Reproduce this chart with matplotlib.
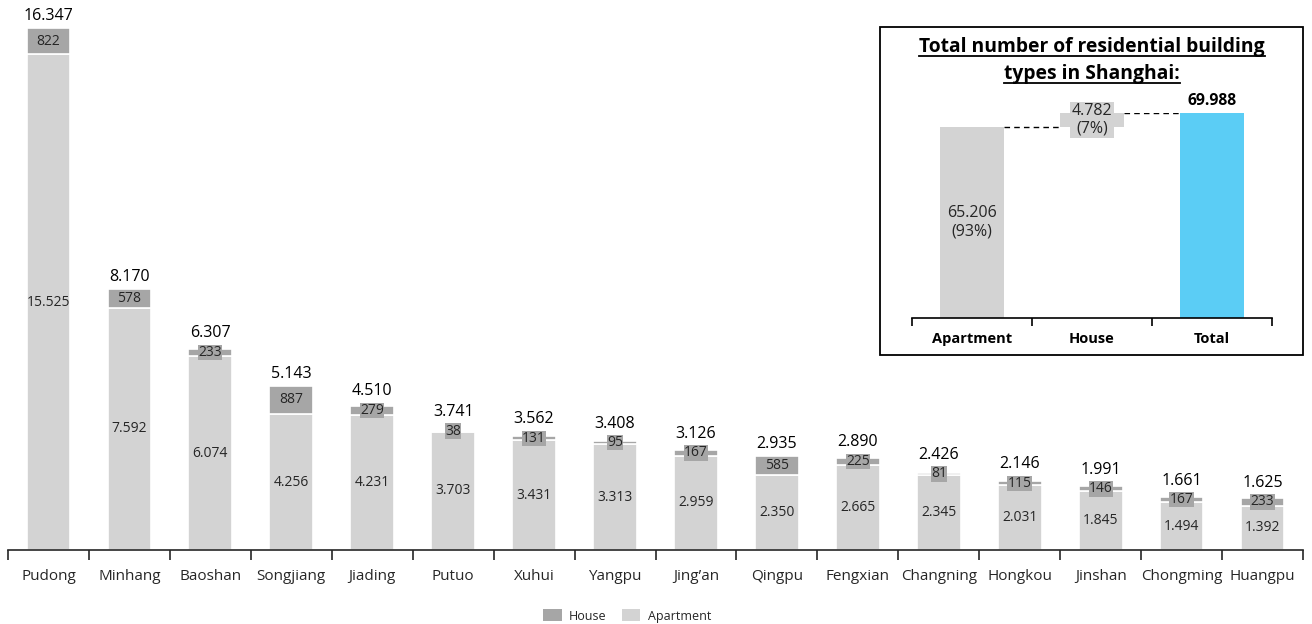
import numpy as np
import matplotlib
matplotlib.use("Agg")
import matplotlib.pyplot as plt
from matplotlib.patches import Rectangle, Patch
from matplotlib.lines import Line2D

plt.rcParams['font.family'] = ['Open Sans', 'DejaVu Sans']

districts = ["Pudong", "Minhang", "Baoshan", "Songjiang", "Jiading", "Putuo", "Xuhui",
             "Yangpu", "Jing\u2019an", "Qingpu", "Fengxian", "Changning", "Hongkou",
             "Jinshan", "Chongming", "Huangpu"]
apartment = [15525, 7592, 6074, 4256, 4231, 3703, 3431, 3313, 2959, 2350, 2665, 2345,
             2031, 1845, 1494, 1392]
house = [822, 578, 233, 887, 279, 38, 131, 95, 167, 585, 225, 81, 115, 146, 167, 233]

summary_labels = ["Apartment", "House", "Total"]
summary_apartment = 65206
summary_house = 4782
summary_total = 69988
summary_pct = ["93%", "7%"]

C_HOUSE = "#a6a6a6"
C_APT = "#d3d3d3"
C_TOTAL = "#5bcdf5"
TXT = "#262626"


def fmt(v):
    return f"{v:,}".replace(",", ".")


W, H = 1312, 624
fig = plt.figure(figsize=(W / 100, H / 100), dpi=100)

# ---- main stacked bar chart ----
ax_h_px = 522
ax = fig.add_axes([8 / W, 74 / H, 1295 / W, ax_h_px / H])
x = np.arange(len(districts))
apt = np.array(apartment)
hs = np.array(house)
tot = apt + hs
ymax = tot.max()
bw = 0.54
ax.bar(x, apt, bw, color=C_APT, edgecolor="white", linewidth=1.2)
ax.bar(x, hs, bw, bottom=apt, color=C_HOUSE, edgecolor="white", linewidth=1.2)

box_half_px = 7
for i in range(len(x)):
    ax.text(x[i], apt[i] / 2, fmt(apt[i]), ha="center", va="center",
            fontsize=10, color=TXT)
    ax.text(x[i], apt[i] + hs[i] / 2, fmt(hs[i]), ha="center", va="center",
            fontsize=10, color=TXT,
            bbox=dict(boxstyle="square,pad=0.02", fc=C_HOUSE, ec="none"))
    # keep the total clear of the house label box when the segment is thin
    seg_px = hs[i] * ax_h_px / ymax
    off_px = max(0.0, box_half_px - seg_px / 2) + 4
    ax.annotate(fmt(tot[i]), (x[i], tot[i]), xytext=(0, off_px * 0.72),
                textcoords="offset points", ha="center", va="bottom",
                fontsize=11.5, color="black", annotation_clip=False)

ax.set_xlim(-0.5, len(x) - 0.5)
ax.set_ylim(0, ymax)
for s in ["top", "right", "left"]:
    ax.spines[s].set_visible(False)
ax.spines["bottom"].set_color(TXT)
ax.spines["bottom"].set_linewidth(1.2)
ax.set_yticks([])
ax.set_xticks(x)
ax.set_xticklabels(districts, fontsize=11, color=TXT)
ax.tick_params(axis="x", which="major", length=0, pad=14)
ax.set_xticks(np.arange(-0.5, len(x), 1.0), minor=True)
ax.tick_params(axis="x", which="minor", length=7, width=1.2, color=TXT, direction="out")

handles = [Patch(facecolor=C_HOUSE, label="House"), Patch(facecolor=C_APT, label="Apartment")]
fig.legend(handles=handles, loc="center", bbox_to_anchor=(627 / W, 8 / H), ncol=2,
           frameon=False, fontsize=9, handlelength=1.5, handleheight=1.1,
           columnspacing=1.2, handletextpad=0.6, labelcolor=TXT)

# ---- summary waterfall panel ----
fig.patches.append(Rectangle((880 / W, (H - 355) / H), 423 / W, 328 / H,
                             transform=fig.transFigure, fill=False, ec="black", lw=1.3))

title_lines = ["Total number of residential building", "types in Shanghai:"]
title_y = [47, 74]
titles = []
for line, yy in zip(title_lines, title_y):
    titles.append(fig.text(1092 / W, (H - yy) / H, line, ha="center", va="center",
                           fontsize=13.9, fontweight="bold", color="black"))

ax2 = fig.add_axes([912 / W, (H - 318) / H, 360 / W, 205 / H])
wbw = 64 / 120
ax2.bar(0, summary_apartment, wbw, color=C_APT)
ax2.bar(1, summary_house, wbw, bottom=summary_apartment, color=C_APT)
ax2.bar(2, summary_total, wbw, color=C_TOTAL)
ax2.plot([wbw / 2, 1 - wbw / 2], [summary_apartment] * 2, "k--", lw=1, dashes=(4, 3))
ax2.plot([1 + wbw / 2, 2 - wbw / 2], [summary_total] * 2, "k--", lw=1, dashes=(4, 3))
ax2.text(0, summary_apartment / 2, f"{fmt(summary_apartment)}\n({summary_pct[0]})",
         ha="center", va="center", fontsize=11.5, color=TXT, linespacing=1.2)
ax2.text(1, summary_apartment + summary_house / 2,
         f"{fmt(summary_house)}\n({summary_pct[1]})",
         ha="center", va="center", fontsize=11.5, color=TXT, linespacing=1.1,
         bbox=dict(boxstyle="square,pad=0.08", fc=C_APT, ec="none"))
ax2.annotate(fmt(summary_total), (2, summary_total), xytext=(0, 3),
             textcoords="offset points", ha="center", va="bottom", fontsize=11.3,
             fontweight="bold", color="black", annotation_clip=False)
ax2.set_xlim(-0.5, 2.5)
ax2.set_ylim(0, summary_total)
for s in ["top", "right", "left"]:
    ax2.spines[s].set_visible(False)
ax2.spines["bottom"].set_linewidth(1.2)
ax2.set_yticks([])
ax2.set_xticks(range(3))
ax2.set_xticklabels(summary_labels, fontsize=10.5, fontweight="bold")
ax2.tick_params(axis="x", which="major", length=0, pad=10)
ax2.set_xticks([-0.5, 0.5, 1.5, 2.5], minor=True)
ax2.tick_params(axis="x", which="minor", length=6, width=1.2, direction="out")

# underline the panel title
fig.canvas.draw()
renderer = fig.canvas.get_renderer()
for t in titles:
    bb = t.get_window_extent(renderer)
    yline = bb.y0 + 1
    fig.add_artist(Line2D([bb.x0 / W, bb.x1 / W], [yline / H, yline / H],
                          transform=fig.transFigure, color="black", lw=1.3))

fig.savefig("out.png", dpi=100)
